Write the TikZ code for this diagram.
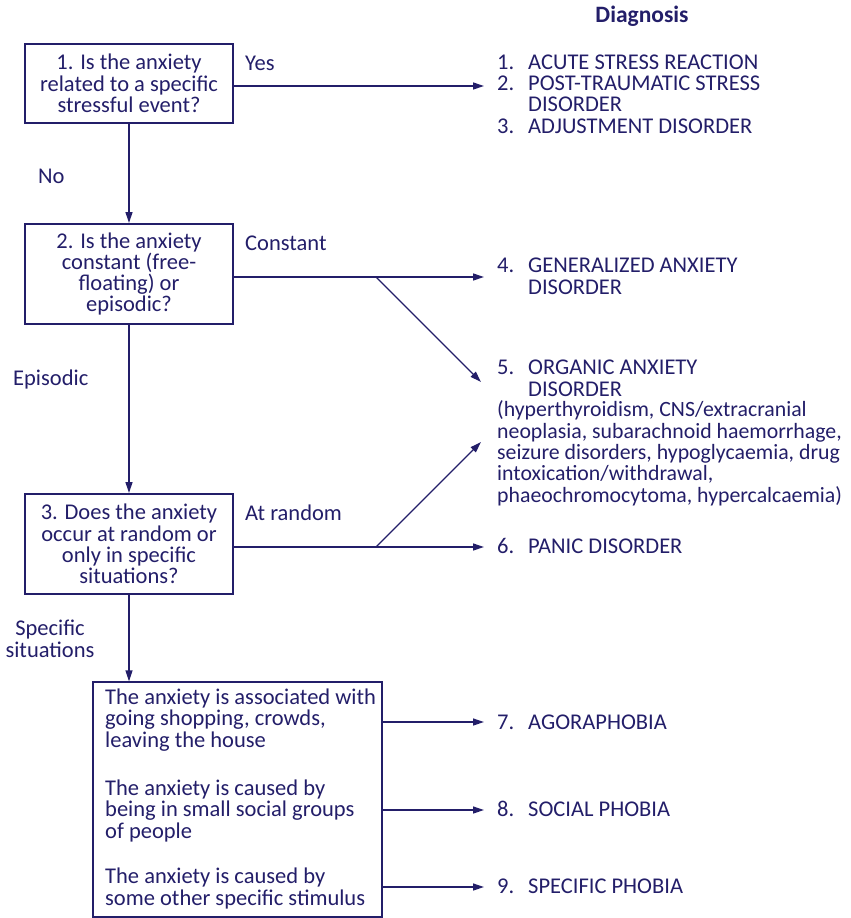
\documentclass[tikz,border=0pt]{standalone}
\usepackage{fontspec}
\setmainfont{Carlito}
\usetikzlibrary{arrows.meta}
\definecolor{navy}{RGB}{35,30,105}
\newcommand\numb[1]{\makebox[31pt][l]{#1}}
\begin{document}
\begin{tikzpicture}[x=1pt,y=-1pt,
  every node/.style={text=navy, font=\fontsize{22.5}{21.3}\selectfont},
  qbox/.style={draw=navy, line width=2pt, minimum width=208pt, align=center, inner sep=0pt},
  sbox/.style={draw=navy, line width=1.3pt, minimum width=289pt, minimum height=235pt, inner sep=0pt},
  lbl/.style={anchor=base west, inner sep=0pt},
  dx/.style={anchor=base west, inner sep=0pt, align=left},
  link/.style={draw=navy, line width=1.3pt},
  arr/.style={link, -{Triangle[length=11pt,width=7pt]}}
]
\useasboundingbox (0,0) rectangle (851,918);

% question boxes
\node[qbox, minimum height=79pt] (q1) at (129,83.5) {1. Is the anxiety\\related to a specific\\stressful event?};
\node[qbox, minimum height=100pt] (q2) at (129,274) {2. Is the anxiety\\constant (free-\\floating) or\\episodic?};
\node[qbox, minimum height=100pt] (q3) at (129,544) {3. Does the anxiety\\occur at random or\\only in specific\\situations?};
\node[sbox] (q4) at (237.5,799.5) {};
% multi-line nodes: base anchor = baseline of last line
\node[dx] (s7) at (105,747) {The anxiety is associated with\\going shopping, crowds,\\leaving the house};
\node[dx] (s8) at (105,838) {The anxiety is caused by\\being in small social groups\\of people};
\node[dx] (s9) at (105,905) {The anxiety is caused by\\some other specific stimulus};

% branch labels
\node[lbl] (yes) at (245,70) {Yes};
\node[lbl] (no) at (38,183) {No};
\node[lbl] (const) at (245,250) {Constant};
\node[lbl] (epis) at (13,385) {Episodic};
\node[lbl] (rand) at (245,520) {At random};
\node[anchor=base, align=center, inner sep=0pt] (spec) at (50,657) {Specific\\situations};

% diagnoses
\node[anchor=base, inner sep=0pt, font=\bfseries\fontsize{23.5}{24}\selectfont] (hdr) at (642,23) {Diagnosis};
\node[dx] (d1) at (497,133) {\numb{1.}ACUTE STRESS REACTION\\\numb{2.}POST-TRAUMATIC STRESS\\\numb{}DISORDER\\\numb{3.}ADJUSTMENT DISORDER};
\node[dx] (d4) at (497,294) {\numb{4.}GENERALIZED ANXIETY\\\numb{}DISORDER};
\node[dx] (d5) at (497,396) {\numb{5.}ORGANIC ANXIETY\\\numb{}DISORDER};
\node[dx, font=\fontsize{21.8}{21.3}\selectfont] (d5x) at (497,502) {(hyperthyroidism, CNS/extracranial\\neoplasia, subarachnoid haemorrhage,\\seizure disorders, hypoglycaemia, drug\\intoxication/withdrawal,\\phaeochromocytoma, hypercalcaemia)};
\node[dx] (d6) at (497,553) {\numb{6.}PANIC DISORDER};
\node[dx] (d7) at (497,729) {\numb{7.}AGORAPHOBIA};
\node[dx] (d8) at (497,816) {\numb{8.}SOCIAL PHOBIA};
\node[dx] (d9) at (497,893) {\numb{9.}SPECIFIC PHOBIA};

% arrow end points
\coordinate (t1) at (484,86);
\coordinate (t4) at (484,277);
\coordinate (b1) at (376,277);
\coordinate (t5a) at (481,382);
\coordinate (t6) at (484,547);
\coordinate (b2) at (376,547);
\coordinate (t5b) at (481,442);
\coordinate (t7) at (484,722);
\coordinate (t8) at (484,810);
\coordinate (t9) at (484,887);

% connectors
\draw[arr] (q1.east |- t1) -- (t1);
\draw[arr] (q1.south) -- (q2.north);
\draw[arr] (q2.east |- t4) -- (t4);
\draw[arr] (b1) -- (t5a);
\draw[arr] (q2.south) -- (q3.north);
\draw[arr] (q3.east |- t6) -- (t6);
\draw[arr] (b2) -- (t5b);
\draw[arr] (q3.south) -- (q3.south |- q4.north);
\draw[arr] (q4.east |- t7) -- (t7);
\draw[arr] (q4.east |- t8) -- (t8);
\draw[arr] (q4.east |- t9) -- (t9);
\end{tikzpicture}
\end{document}
